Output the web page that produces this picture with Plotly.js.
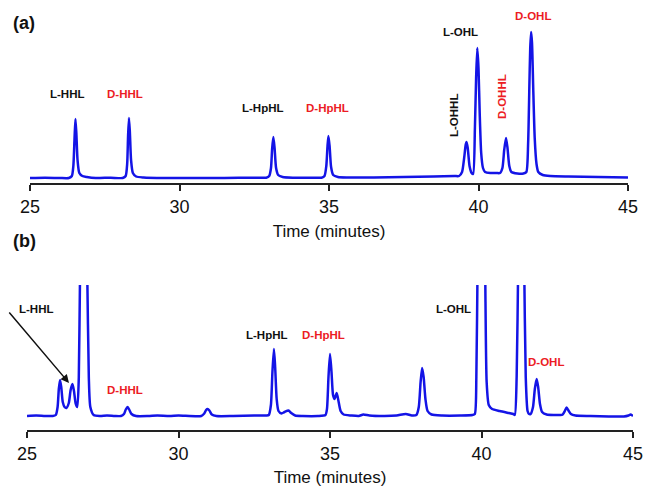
<!DOCTYPE html>
<html>
<head>
<meta charset="utf-8">
<script src="https://cdn.plot.ly/plotly-3.0.1.min.js"></script>
<style>html,body{margin:0;padding:0;background:#fff;}#chart{width:646px;height:487px;}</style>
</head>
<body>
<div id="chart"></div>
<script>
// ---- Panel (a): chromatogram samples ----
var timeA = [25.0, 25.5, 26.0, 26.30, 26.40, 26.45, 26.49, 26.52, 26.55, 26.59, 26.65, 26.75, 26.9, 27.2,
  27.7, 28.1, 28.2, 28.25, 28.28, 28.31, 28.34, 28.38, 28.44, 28.55, 28.8,
  29.5, 30.5, 31.5, 32.5, 32.9, 33.0, 33.06, 33.10, 33.14, 33.18, 33.23, 33.3, 33.45, 33.8,
  34.5, 34.75, 34.85, 34.91, 34.95, 34.98, 35.02, 35.07, 35.14, 35.3, 35.6,
  36.5, 37.5, 38.5, 39.2, 39.35, 39.45, 39.52, 39.57, 39.60, 39.64, 39.70, 39.77, 39.82,
  39.88, 39.92, 39.96, 40.00, 40.04, 40.09, 40.15, 40.22, 40.4, 40.6,
  40.72, 40.80, 40.86, 40.92, 40.97, 41.03, 41.10, 41.3, 41.5,
  41.60, 41.66, 41.70, 41.73, 41.76, 41.79, 41.83, 41.88, 41.94, 42.0, 42.15, 42.4, 43.0, 44.0, 45.0];
var signalA = [0, 0.3, 0, 0, 2, 12, 40, 59, 45, 18, 5, 2, 1, 0,
  0.3, 0, 2, 14, 42, 60, 46, 18, 5, 1.5, 0.5,
  0, 0, 0, 0.3, 0.3, 2, 10, 30, 41, 30, 10, 3, 1, 0.3,
  0.2, 0.3, 2, 12, 32, 42, 32, 11, 3, 1, 0.5,
  0.5, 1, 1.5, 2, 2, 6, 20, 33, 36, 30, 12, 5, 4,
  50, 100, 130, 110, 65, 25, 10, 6, 5, 5,
  5, 10, 28, 40, 30, 12, 6, 4.5, 4.5,
  6, 35, 90, 130, 146, 135, 90, 40, 14, 6, 3, 2, 1.5, 1, 0.5];

// ---- Panel (b): chromatogram samples ----
var timeB = [25.0, 25.3, 25.6, 25.85, 25.95, 26.01, 26.05, 26.09, 26.13, 26.18, 26.24, 26.30,
  26.38, 26.44, 26.50, 26.55, 26.61, 26.66, 26.71, 26.75, 26.87, 26.99, 27.04, 27.09, 27.2, 27.4,
  27.64, 27.9, 28.1, 28.2, 28.26, 28.32, 28.38, 28.45, 28.6, 29.0, 29.3, 29.7, 30.0,
  30.75, 30.85, 30.91, 30.96, 31.02, 31.1, 31.25, 31.8, 32.5, 32.9,
  32.98, 33.05, 33.10, 33.15, 33.19, 33.24, 33.30, 33.40, 33.50, 33.63, 33.72, 33.85, 34.1,
  34.6, 34.85, 34.90, 34.95, 35.00, 35.05, 35.10, 35.15, 35.22, 35.28, 35.35, 35.45, 35.7,
  35.95, 36.1, 36.3, 36.8, 37.2, 37.5, 37.7,
  37.85, 37.93, 37.99, 38.04, 38.09, 38.15, 38.22, 38.35, 38.7, 39.3, 39.7,
  39.78, 39.83, 39.87, 40.00, 40.12, 40.17, 40.24, 40.35, 40.6, 40.9, 41.05,
  41.10, 41.16, 41.21, 41.31, 41.41, 41.46, 41.52, 41.57,
  41.62, 41.70, 41.76, 41.82, 41.87, 41.93, 42.0, 42.15, 42.4, 42.6,
  42.68, 42.75, 42.81, 42.87, 42.95, 43.1, 43.6, 44.2, 44.7, 44.85, 44.92, 45.0];
var signalB = [1, 1.5, 1, 1, 2, 10, 28, 37, 30, 15, 10, 9,
  14, 27, 33, 26, 13, 10, 40, 140, 320, 140, 40, 10, 2, 1,
  1.5, 1, 1, 3, 7.5, 10, 7, 3, 1, 1, 1.5, 1, 1.5,
  1, 3.5, 7, 8, 6.5, 2.5, 1, 1, 1.5, 1.5,
  2, 12, 45, 68, 50, 18, 6, 3.5, 5, 6.5, 4, 1.5, 1,
  1, 2, 8, 40, 63, 45, 22, 18, 24, 16, 6, 2.5, 1.5,
  1, 2.5, 1.5, 1, 1.5, 3, 1.5,
  2, 10, 35, 49, 40, 18, 6, 2.5, 1.5, 1.5, 2,
  3, 40, 150, 420, 150, 35, 12, 8, 6, 4, 3,
  2, 40, 150, 400, 150, 40, 6, 3,
  3, 10, 28, 38, 30, 13, 5, 2.5, 2, 2,
  2.5, 6, 9.5, 6.5, 3, 1.5, 1, 0.5, 0.5, 1.5, 2.5, 1];

var tickVals = [25, 30, 35, 40, 45];
var tickText = ['25', '30', '35', '40', '45'];
var xTitle = 'Time (minutes)';

var labelsA = ['L-HHL', 'D-HHL', 'L-HpHL', 'D-HpHL', 'L-OHHL', 'L-OHL', 'D-OHHL', 'D-OHL'];
var labelsB = ['L-HHL', 'D-HHL', 'L-HpHL', 'D-HpHL', 'L-OHL', 'D-OHL'];
var panelTags = ['(a)', '(b)'];

var W = 646, H = 487;
function px(x) { return x / W; }
function py(y) { return 1 - y / H; }

var BLUE = '#1414e6', RED = '#ec1c24', BLACK = '#111111';

var traces = [
  {x: timeA, y: signalA, xaxis: 'x', yaxis: 'y', type: 'scatter', mode: 'lines',
   line: {color: BLUE, width: 2.5, shape: 'spline', smoothing: 0.6}, hoverinfo: 'skip'},
  {x: timeB, y: signalB, xaxis: 'x2', yaxis: 'y2', type: 'scatter', mode: 'lines',
   line: {color: BLUE, width: 2.5, shape: 'spline', smoothing: 0.6}, hoverinfo: 'skip'}
];

function xax(domain, anchor) {
  return {
    domain: domain, anchor: anchor, range: [25, 45], autorange: false,
    tickmode: 'array', tickvals: tickVals, ticktext: tickText,
    ticks: 'outside', ticklen: 6, tickwidth: 2, tickcolor: '#222',
    showline: true, linecolor: '#222', linewidth: 2, showgrid: false, zeroline: false,
    tickfont: {family: 'Liberation Sans, Arial, sans-serif', size: 18, color: BLACK},
    title: {text: xTitle, standoff: 10, font: {family: 'Liberation Sans, Arial, sans-serif', size: 17, color: BLACK}},
    automargin: false, fixedrange: true
  };
}
function yax(domain, anchor, range) {
  return {domain: domain, anchor: anchor, range: range, autorange: false,
    showline: false, showgrid: false, zeroline: false, showticklabels: false, ticks: '', fixedrange: true};
}

var fontBold = function (size, color) { return {family: 'Liberation Sans, Arial, sans-serif', size: size, color: color}; };
function lab(text, x, y, color, angle) {
  return {text: '<b>' + text + '</b>', xref: 'paper', yref: 'paper', x: px(x), y: py(y),
    xanchor: 'center', yanchor: 'middle', showarrow: false, font: fontBold(11.5, color), textangle: angle || 0};
}

var annotations = [
  {text: '<b>' + panelTags[0] + '</b>', xref: 'paper', yref: 'paper', x: px(24), y: py(23), xanchor: 'center', yanchor: 'middle', showarrow: false, font: fontBold(18, BLACK)},
  {text: '<b>' + panelTags[1] + '</b>', xref: 'paper', yref: 'paper', x: px(24), y: py(241), xanchor: 'center', yanchor: 'middle', showarrow: false, font: fontBold(18, BLACK)},
  lab(labelsA[0], 67, 94, BLACK),
  lab(labelsA[1], 125, 94, RED),
  lab(labelsA[2], 263, 108, BLACK),
  lab(labelsA[3], 327, 108, RED),
  lab(labelsA[4], 454, 116, BLACK, -90),
  lab(labelsA[5], 460, 32, BLACK),
  lab(labelsA[6], 502, 97, RED, -90),
  lab(labelsA[7], 533, 16, RED),
  lab(labelsB[0], 36, 309, BLACK),
  lab(labelsB[1], 125, 390, RED),
  lab(labelsB[2], 267, 335, BLACK),
  lab(labelsB[3], 323, 335, RED),
  lab(labelsB[4], 453, 309, BLACK),
  lab(labelsB[5], 546, 362, RED),
  {text: '', xref: 'paper', yref: 'paper', x: px(69), y: py(383), axref: 'pixel', ayref: 'pixel',
   ax: 8 - 69, ay: 311 - 383, showarrow: true, arrowhead: 2, arrowsize: 1.1, arrowwidth: 1.5, arrowcolor: BLACK, standoff: 0}
];

var layout = {
  width: W, height: H, margin: {l: 0, r: 0, t: 0, b: 0}, paper_bgcolor: '#fff', plot_bgcolor: '#fff',
  showlegend: false,
  xaxis: xax([px(30), px(628)], 'y'),
  yaxis: yax([py(183), py(25)], 'x', [-5, 153]),
  xaxis2: xax([px(27), px(633)], 'y2'),
  yaxis2: yax([py(430), py(285)], 'x2', [-13, 132]),
  annotations: annotations
};

Plotly.newPlot('chart', traces, layout, {displayModeBar: false, staticPlot: true});
</script>
</body>
</html>
